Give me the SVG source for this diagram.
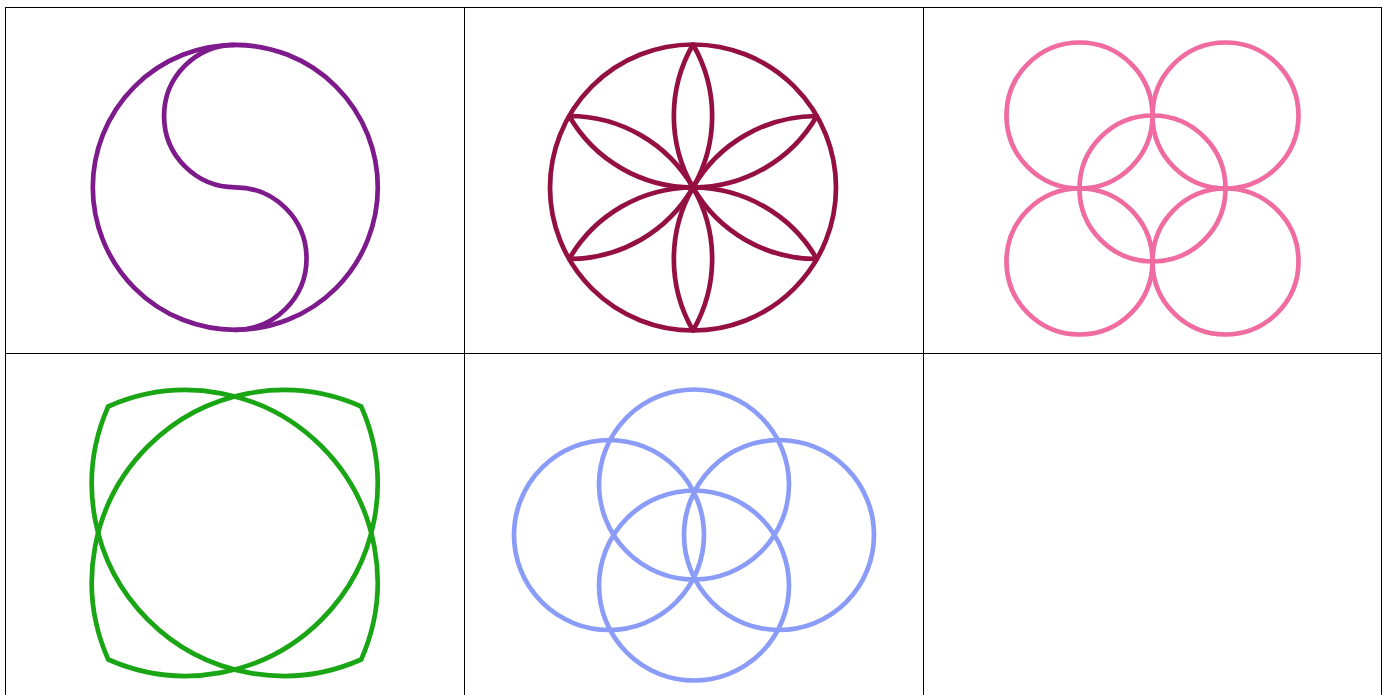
<svg xmlns="http://www.w3.org/2000/svg" width="1386" height="695" viewBox="0 0 1386 695">
  <style>
    .grid { stroke: #000; stroke-width: 1; fill: none; }
    .shape { fill: none; stroke-width: 4.7; stroke-linejoin: miter; }
    .purple { stroke: #7e1b8c; }
    .crimson { stroke: #951042; stroke-linejoin: round; }
    .pink { stroke: #f06ba0; }
    .green { stroke: #1aa515; }
    .blue { stroke: #8a9cf8; }
  </style>
  <rect width="1386" height="695" fill="#fff"/>
  <g id="grid" class="grid">
    <line x1="5.5" y1="7.5" x2="1381.5" y2="7.5"/>
    <line x1="5.5" y1="353.5" x2="1381.5" y2="353.5"/>
    <line x1="5.5" y1="7" x2="5.5" y2="695"/>
    <line x1="464.5" y1="7" x2="464.5" y2="695"/>
    <line x1="923.5" y1="7" x2="923.5" y2="695"/>
    <line x1="1381.5" y1="7" x2="1381.5" y2="695"/>
  </g>
  <g id="yinyang" class="shape purple">
    <circle cx="235.3" cy="187.3" r="142.5"/>
    <path d="M235.3 44.8 A71.25 71.25 0 0 0 235.3 187.3 A71.25 71.25 0 0 1 235.3 329.8"/>
  </g>
  <g id="rosette" class="shape crimson">
    <circle cx="693" cy="187.5" r="143"/>
    <path d="M693 187.5 A143 143 0 0 1 693 44.5 A143 143 0 0 1 693 187.5"/>
    <path d="M693 187.5 A143 143 0 0 1 816.84 116 A143 143 0 0 1 693 187.5"/>
    <path d="M693 187.5 A143 143 0 0 1 816.84 259 A143 143 0 0 1 693 187.5"/>
    <path d="M693 187.5 A143 143 0 0 1 693 330.5 A143 143 0 0 1 693 187.5"/>
    <path d="M693 187.5 A143 143 0 0 1 569.16 259 A143 143 0 0 1 693 187.5"/>
    <path d="M693 187.5 A143 143 0 0 1 569.16 116 A143 143 0 0 1 693 187.5"/>
  </g>
  <g id="fivecircles" class="shape pink">
    <circle cx="1079.5" cy="115.5" r="73"/>
    <circle cx="1225.5" cy="115.5" r="73"/>
    <circle cx="1079.5" cy="261.5" r="73"/>
    <circle cx="1225.5" cy="261.5" r="73"/>
    <circle cx="1152.5" cy="188.5" r="73"/>
  </g>
  <g id="lenses" class="shape green">
    <path d="M108.2 406.5 A191.8 191.8 0 0 1 361.2 659.5 A191.8 191.8 0 0 1 108.2 406.5 Z"/>
    <path d="M361.2 406.5 A191.8 191.8 0 0 1 108.2 659.5 A191.8 191.8 0 0 1 361.2 406.5 Z"/>
  </g>
  <g id="fourcircles" class="shape blue">
    <circle cx="694" cy="484.5" r="95"/>
    <circle cx="694" cy="585.5" r="95"/>
    <circle cx="609" cy="535" r="95"/>
    <circle cx="779" cy="535" r="95"/>
  </g>
</svg>
